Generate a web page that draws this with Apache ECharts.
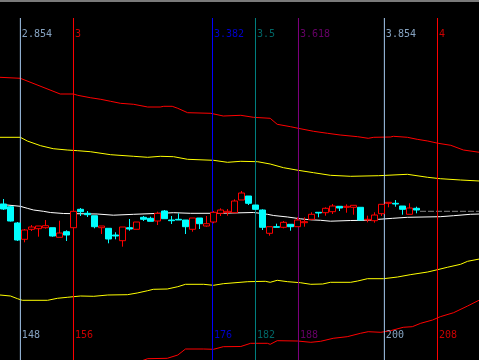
<!DOCTYPE html>
<html><head><meta charset="utf-8">
<script src="https://cdn.jsdelivr.net/npm/echarts@6/dist/echarts.min.js"></script>
<style>html,body{margin:0;padding:0;background:#000}#c{width:479px;height:360px}</style>
</head><body><div id="c"></div>
<script>
// Fibonacci time extension: ratio labels (top), bar-number labels (bottom), bar positions
const fibRatios = ['2.854', '3', '3.382', '3.5', '3.618', '3.854', '4'];
const fibBarLabels = ['148', '156', '176', '182', '188', '200', '208'];
const fibBars = [148.41, 156, 175.86, 182, 188.14, 200.41, 208];
const fibColors = ['#a6caf0', '#ff0000', '#0000ff', '#008080', '#800080', '#a6caf0', '#ff0000'];

// Candles
const candleBar = [146,147,148,149,150,151,152,153,154,155,156,157,158,159,160,161,162,163,164,165,
  166,167,168,169,170,171,172,173,174,175,176,177,178,179,180,181,182,183,184,185,
  186,187,188,189,190,191,192,193,194,195,196,197,198,199,200,201,202,203,204,205];
const candleOpen = [15.6,15.33,13.7,12.07,13.07,13.13,13.23,13.23,12.27,12.83,13.23,15.07,14.67,14.43,13.23,13.17,12.5,11.93,13.23,13.07,
  14.27,14.17,13.9,14.9,14.0,14.07,14.0,13.07,14.2,13.4,13.8,14.67,14.77,14.73,16.0,16.4,15.5,15.0,12.67,13.33,
  13.27,13.57,13.33,13.73,14.07,14.77,14.73,14.83,15.37,15.27,15.27,15.27,14.0,13.93,14.63,15.67,15.67,15.4,14.57,15.17];
const candleClose = [15.1,13.9,12.0,13.0,13.3,13.4,13.43,12.4,12.7,12.5,14.87,14.83,14.53,13.33,13.4,12.1,12.4,13.3,13.1,13.8,
  14.07,13.87,14.67,14.13,13.93,14.0,13.33,14.2,13.63,13.63,14.77,15.0,14.87,15.9,16.7,15.67,15.07,13.27,13.33,13.27,
  13.77,13.33,14.0,13.83,14.57,14.7,15.17,15.4,15.2,15.37,15.47,14.0,14.07,14.5,15.57,15.77,15.6,15.07,15.2,15.0];
const candleLow = [15.0,13.85,11.9,11.77,12.9,12.33,13.13,12.33,12.27,11.9,13.23,14.4,14.3,13.17,12.6,11.67,12.07,11.33,12.93,13.07,
  13.9,13.87,13.5,14.13,13.6,14.0,12.6,12.83,13.1,13.33,13.67,14.4,14.43,14.73,16.0,15.5,15.07,13.0,12.43,13.27,
  13.17,12.93,13.33,13.33,13.97,14.27,14.43,14.6,14.9,14.73,14.53,14.0,13.77,13.73,14.4,15.27,15.33,14.53,14.57,14.67];
const candleHigh = [16.1,15.4,13.8,13.1,13.5,13.4,14.0,13.23,13.93,12.97,14.87,15.2,14.9,14.43,13.4,13.17,12.77,13.3,14.1,13.8,
  14.4,14.33,14.83,15.0,14.4,14.67,14.0,14.2,14.2,14.4,14.9,15.17,15.1,16.07,16.9,16.4,15.5,15.07,13.33,13.63,
  13.9,13.57,14.27,14.27,14.77,14.77,15.27,15.6,15.37,15.57,15.47,15.27,14.43,14.77,15.57,15.77,16.0,15.4,15.67,15.33];

// Bands: [bar, value]
const upperOuter = [[145.5,28.27],[148.4,28.17],[154.1,26.6],[156.0,26.6],[156.6,26.47],[158.4,26.23],[159.9,26.07],[161.3,25.87],[162.7,25.67],[164.6,25.57],[166.6,25.3],[168.4,25.3],[168.9,25.37],[170.1,25.37],[170.9,25.17],[172.3,24.73],[175.6,24.67],[177.4,24.4],[179.9,24.47],[181.7,24.27],[184.1,24.17],[185.1,23.57],[187.0,23.33],[188.1,23.17],[190.3,22.87],[192.3,22.67],[194.1,22.5],[196.6,22.33],[198.1,22.17],[198.9,22.27],[201.3,22.3],[201.7,22.37],[203.7,22.27],[205.1,22.07],[206.6,21.9],[208.1,21.67],[209.9,21.47],[211.7,21.0],[214.0,20.77]];
const upperInner = [[145.5,22.27],[148.4,22.27],[149.4,21.9],[151.3,21.43],[153.1,21.13],[155.1,21.0],[156.6,20.93],[158.4,20.83],[161.3,20.53],[164.6,20.37],[166.6,20.27],[168.4,20.37],[170.3,20.33],[172.3,20.07],[176.0,19.97],[178.0,19.77],[179.9,19.87],[182.3,19.83],[184.1,19.6],[186.0,19.23],[188.1,18.97],[190.3,18.73],[192.7,18.47],[195.6,18.37],[199.6,18.43],[203.7,18.57],[206.6,18.27],[208.4,18.13],[211.3,18.0],[214.0,17.9]];
const middleLine = [[145.5,15.57],[148.4,15.37],[149.4,15.17],[150.3,15.0],[151.7,14.87],[152.7,14.75],[154.6,14.65],[159.4,14.6],[161.7,14.48],[164.6,14.57],[168.4,14.67],[170.3,14.73],[172.7,14.67],[176.6,14.67],[181.7,14.75],[182.7,14.67],[183.7,14.57],[184.6,14.45],[186.6,14.3],[188.4,14.12],[189.9,14.02],[191.3,13.97],[192.7,13.88],[195.6,13.95],[198.0,13.97],[199.6,14.07],[201.6,14.17],[203.7,14.27],[208.4,14.33],[210.3,14.43],[212.7,14.57],[214.0,14.6]];
const lowerInner = [[145.5,6.5],[147.0,6.4],[148.0,6.13],[148.7,5.97],[152.3,5.97],[153.7,6.17],[155.1,6.27],[157.0,6.4],[158.9,6.37],[160.9,6.5],[163.7,6.53],[165.1,6.7],[166.6,6.93],[167.4,7.07],[169.4,7.1],[170.9,7.33],[172.0,7.57],[174.6,7.57],[176.0,7.47],[177.4,7.63],[180.9,7.83],[183.4,7.87],[184.1,7.77],[185.1,7.97],[186.6,7.83],[188.4,7.73],[189.9,7.57],[191.6,7.6],[192.7,7.77],[195.6,7.77],[196.6,7.9],[198.0,8.13],[200.3,8.13],[202.3,8.3],[204.1,8.53],[206.6,8.8],[208.0,9.03],[209.4,9.27],[211.3,9.57],[212.3,9.87],[214.0,10.1]];
const lowerOuter = [[164.1,-0.5],[166.6,0.13],[169.4,0.17],[170.9,0.5],[172.0,1.1],[174.6,1.1],[176.0,1.07],[177.4,1.33],[179.9,1.35],[181.3,1.67],[183.7,1.67],[184.1,1.57],[185.1,1.93],[188.0,1.9],[189.9,1.77],[191.3,1.87],[193.1,2.17],[195.1,2.33],[197.0,2.67],[198.1,2.83],[199.9,2.77],[201.3,2.93],[203.1,3.27],[204.4,3.33],[205.6,3.67],[207.3,4.0],[208.4,4.33],[210.3,4.73],[212.3,5.4],[214.0,6.0]];
const lastPriceLine = [[205.5,14.87],[214.0,14.87]];

const TOP_VAL = 34.2, TOP_LABEL = 32.6, BOTTOM_LABEL = 2.5;

const series = [];
function band(data, color) {
  series.push({type:'line', data, showSymbol:false, symbol:'none', z:1, silent:true,
    lineStyle:{color, width:1}, animation:false});
}
band(upperOuter, '#ff0000');
band(upperInner, '#ffff00');
band(middleLine, '#ffffff');
band(lowerInner, '#ffff00');
band(lowerOuter, '#ff0000');
series.push({type:'line', data:lastPriceLine, showSymbol:false, symbol:'none', z:1, silent:true,
  lineStyle:{color:'#808080', width:1, type:[6,2]}});

fibBars.forEach((b, k) => {
  series.push({type:'line', data:[[b, TOP_VAL],[b, 0]], showSymbol:false, symbol:'none', z:1, silent:true,
    lineStyle:{color:fibColors[k], width:1}});
  series.push({type:'scatter', symbolSize:1, z:5, silent:true, itemStyle:{color:'rgba(0,0,0,0)'},
    data:[[b, TOP_LABEL, fibRatios[k]], [b, BOTTOM_LABEL, fibBarLabels[k]]],
    label:{show:true, position:'right', distance:1, color:fibColors[k],
      fontFamily:'DejaVu Sans Mono', fontSize:10, formatter:p => p.value[2]}});
});

series.push({type:'candlestick', z:3, barWidth:6,
  encode:{x:0, y:[1,2,3,4]},
  data: candleBar.map((b, i) => [b, candleOpen[i], candleClose[i], candleLow[i], candleHigh[i]]),
  itemStyle:{color:'#000000', borderColor:'#ff0000', color0:'#00ffff', borderColor0:'#00ffff', borderWidth:1}});

const chart = echarts.init(document.getElementById('c'), null, {renderer:'canvas'});
chart.setOption({
  animation:false,
  backgroundColor:'#000000',
  grid:{left:0, right:0, top:0, bottom:0},
  xAxis:{type:'value', min:145.5, max:213.93, show:false},
  yAxis:{type:'value', min:0, max:36, show:false},
  graphic:[{type:'rect', left:0, top:0, shape:{width:479, height:2}, style:{fill:'#7a7a7a'}}],
  series
});
</script></body></html>
